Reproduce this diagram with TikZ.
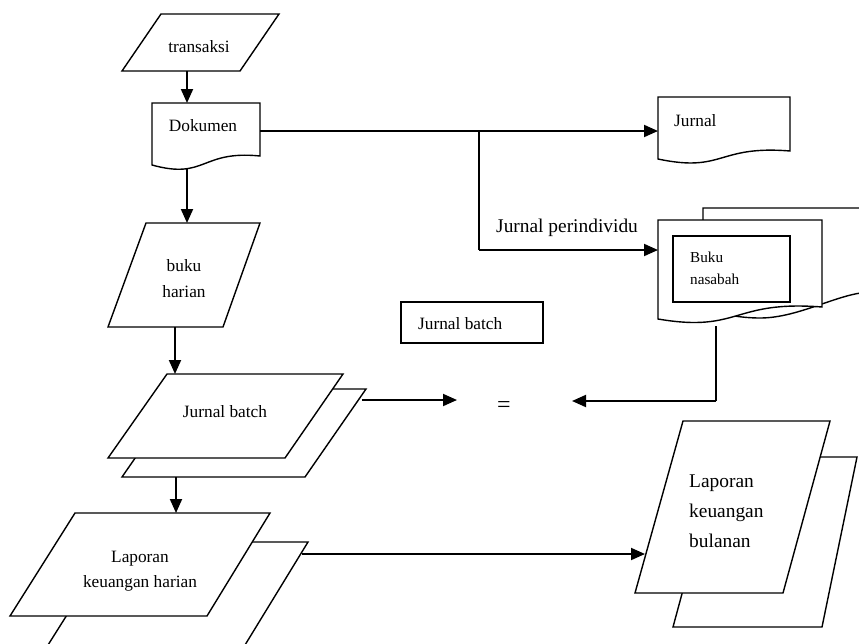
\documentclass[tikz,border=0pt]{standalone}
\usepackage{fontspec}
\setmainfont{Liberation Serif}
\usetikzlibrary{arrows.meta}
\begin{document}
\begin{tikzpicture}[x=1pt,y=-1pt,
  shp/.style={draw=black, line width=1.4pt, fill=white, line join=miter},
  conn/.style={draw=black, line width=1.9pt},
  arr/.style={conn, -{Triangle[length=14pt,width=12pt]}},
  lbl/.style={inner sep=0pt, font=\fontsize{17.3}{21}\selectfont},
  biglbl/.style={inner sep=0pt, font=\fontsize{19.4}{23}\selectfont},
  smalllbl/.style={inner sep=0pt, font=\fontsize{15.2}{18}\selectfont},
  eqlbl/.style={inner sep=0pt, font=\fontsize{24}{28}\selectfont}]
\useasboundingbox (0,0) rectangle (859,643);
\clip (0,0) rectangle (859,643);

% transaksi
\draw[shp] (161,14) -- (279,14) -- (240,71) -- (122,71) -- cycle;
\node[lbl, anchor=base] (ttrans) at (199,52) {transaksi};
\coordinate (trB) at (187,71);

% Dokumen
\draw[shp] (152,165) -- (152,103) -- (260,103) -- (260,156)
  .. controls (200.6,150) and (206,180) .. (152,165) -- cycle;
\node[lbl, anchor=base] (tdok) at (203,131) {Dokumen};
\coordinate (dkT) at (187,103);
\coordinate (dkB) at (187,169);
\coordinate (dkR) at (260,131);
\coordinate (split) at (479,131);
\coordinate (splitD) at (479,250);

% Jurnal
\draw[shp] (658,159) -- (658,97) -- (790,97) -- (790,151)
  .. controls (717,145) and (724,173) .. (658,159) -- cycle;
\node[lbl, anchor=base west] (tjur) at (674,126) {Jurnal};
\coordinate (jrL) at (658,131);

% Jurnal perindividu label
\node[biglbl, anchor=base west] (tper) at (496,232) {Jurnal perindividu};

% Buku nasabah (multi-document)
\draw[shp] (703,309) -- (703,208) -- (872,208) -- (872,292)
  .. controls (840,292) and (800,318) .. (760,318)
  .. controls (735,318) and (715,312) .. (703,309) -- cycle;
\draw[shp] (658,319) -- (658,220) -- (822,220) -- (822,307)
  .. controls (732,300) and (740,333) .. (658,319) -- cycle;
\draw[shp] (673,236) rectangle (790,302);
\node[smalllbl, anchor=base west] (tbuku) at (690,262) {Buku};
\node[smalllbl, anchor=base west] (tnas) at (690,284) {nasabah};
\coordinate (bnL) at (658,250);
\coordinate (bnB) at (716,326);
\coordinate (bnC) at (716,401);

% Jurnal batch box
\draw[shp] (401,302) rectangle (543,343);
\node[lbl, anchor=base west] (tjbbox) at (418,329) {Jurnal batch};

% equals sign
\node[eqlbl, anchor=center] (eq) at (504,407) {=};
\coordinate (eqL) at (457,400);
\coordinate (eqR) at (572,401);

% buku harian
\draw[shp] (146,223) -- (260,223) -- (223,327) -- (108,327) -- cycle;
\node[lbl, anchor=base] (tbh1) at (184,271) {buku};
\node[lbl, anchor=base] (tbh2) at (184,297) {harian};
\coordinate (bhT) at (187,223);
\coordinate (bhB) at (175,327);

% Jurnal batch (double parallelogram)
\draw[shp] (183,389) -- (366,389) -- (305,477) -- (122,477) -- cycle;
\draw[shp] (167,374) -- (343,374) -- (285,458) -- (108,458) -- cycle;
\node[lbl, anchor=base] (tjb) at (225,417) {Jurnal batch};
\coordinate (jbT) at (175,374);
\coordinate (jbB) at (176,477);
\coordinate (jbR) at (362,400);

% Laporan keuangan harian (double parallelogram)
\draw[shp] (113,542) -- (308,542) -- (245,645) -- (48,645) -- cycle;
\draw[shp] (75,513) -- (270,513) -- (207,616) -- (10,616) -- cycle;
\node[lbl, anchor=base] (tlh1) at (140,562) {Laporan};
\node[lbl, anchor=base] (tlh2) at (140,587) {keuangan harian};
\coordinate (lhT) at (176,513);
\coordinate (lhR) at (302,554);

% Laporan keuangan bulanan (double parallelogram)
\draw[shp] (719,457) -- (857,457) -- (822,627) -- (673,627) -- cycle;
\draw[shp] (683,421) -- (830,421) -- (783,593) -- (635,593) -- cycle;
\node[biglbl, anchor=base west] (tlb1) at (689,487) {Laporan};
\node[biglbl, anchor=base west] (tlb2) at (689,517) {keuangan};
\node[biglbl, anchor=base west] (tlb3) at (689,547) {bulanan};
\coordinate (lbL) at (645,554);

% connectors
\draw[arr] (trB) -- (dkT);
\draw[arr] (dkB) -- (bhT);
\draw[arr] (dkR) -- (jrL);
\draw[conn] (split) -- (splitD);
\draw[arr] (splitD) -- (bnL);
\draw[conn] (bnB) -- (bnC);
\draw[arr] (bnC) -- (eqR);
\draw[arr] (bhB) -- (jbT);
\draw[arr] (jbR) -- (eqL);
\draw[arr] (jbB) -- (lhT);
\draw[arr] (lhR) -- (lbL);
\end{tikzpicture}
\end{document}
